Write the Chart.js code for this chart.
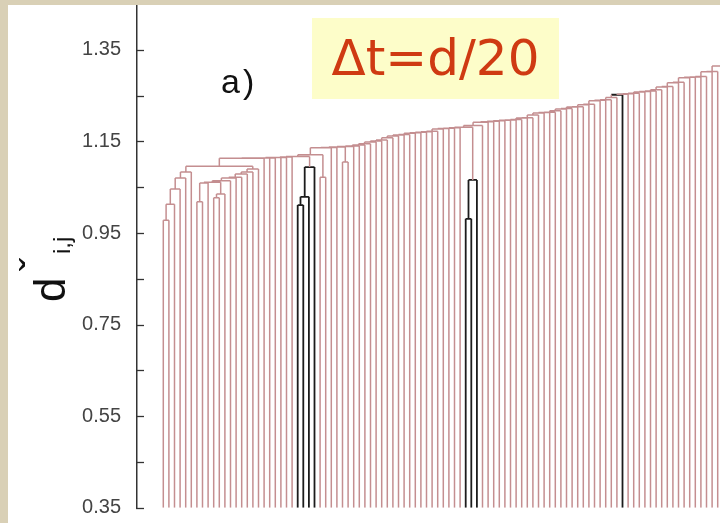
<!DOCTYPE html>
<html><head><meta charset="utf-8">
<script src="https://cdn.jsdelivr.net/npm/chart.js@4.4.1/dist/chart.umd.min.js"></script>
<style>
html,body{margin:0;padding:0;width:720px;height:523px;overflow:hidden;background:#d9d0b6;}
#panel{position:absolute;left:8px;top:5px;width:712px;height:518px;background:#ffffff;overflow:hidden;}
#wrap{position:absolute;left:0;top:0;width:712px;height:518px;}
#tag{position:absolute;left:304px;top:13px;width:247px;height:81px;background:#fdfdc9;color:#cf3a12;
 font-family:'DejaVu Sans',sans-serif;font-size:50px;line-height:81px;text-align:center;white-space:nowrap;}
#panelLabel{position:absolute;left:213px;top:59px;font-family:'Liberation Sans',Arial,sans-serif;font-size:34px;color:#111;line-height:34px;white-space:nowrap;letter-spacing:3px;}
#ytitle{position:absolute;left:20px;top:297px;width:0;height:0;transform-origin:0 0;transform:rotate(-90deg);
 font-family:'Liberation Sans',Arial,sans-serif;color:#111;}
#ytitle span{position:absolute;white-space:nowrap;}
#ytitle .d{left:0;top:0;font-size:44px;line-height:44px;}
#ytitle .caron{left:31px;top:-13px;font-size:40px;line-height:40px;}
#ytitle .sub{left:48px;top:22px;font-size:24px;line-height:24px;}
</style></head>
<body>
<div id="panel">
 <div id="wrap"><canvas id="c"></canvas></div>
 <div id="tag">Δt=d/20</div>
 <div id="panelLabel">a)</div>
 <div id="ytitle"><span class="d">d</span><span class="caron">ˇ</span><span class="sub">i,j</span></div>
</div>
<script>
// ---------------- data ----------------
const yTickValues = [0.35,0.45,0.55,0.65,0.75,0.85,0.95,1.05,1.15,1.25,1.35];
const yTickLabels = ['0.35','','0.55','','0.75','','0.95','','1.15','','1.35'];
const leafBase = 0.35;

// cluster A: ladder over leaves 0-5
const clusterALeaves = [0,1,2,3,4,5];
const clusterAHeights = [0.978,1.013,1.046,1.070,1.083];
// cluster B: leaves 6-17
const clusterBInnerHeights = [1.018,1.059,1.027,1.035,1.061]; // (6,7) ; +8 ; (9,10) ; +11 ; join
const clusterBLadderLeaves = [12,13,14,15,16,17];
const clusterBLadderHeights = [1.064,1.070,1.072,1.079,1.083,1.090];
const clusterABHeight = 1.096;
// black sub-clusters and pairs
const black1Leaves = [24,25,26,27];
const black1Heights = [1.011,1.029,1.094];
const pair1Leaves = [28,29]; const pair1Height = 1.072;
const pair2Leaves = [32,33]; const pair2Height = 1.105;
const black2Leaves = [54,55,56];
const black2Heights = [0.981,1.066];
const blackSingleLeaf = 82;
// main chain: items joined one by one (leaf index or group name) and their join heights
const mainJoinOrder = [18,19,20,21,22,23,'black1','pair1',30,31,'pair2',34,35,36,37,38,39,40,41,42,43,44,45,46,47,48,49,50,51,52,53,'black2',
 57,58,59,60,61,62,63,64,65,66,67,68,69,70,71,72,73,74,75,76,77,78,79,80,81,82,83,84,85,86,87,88,89,90,91,92,93,94,95,96,97,98,99,100];
const mainJoinHeights = [1.113,1.114,1.114,1.115,1.115,1.116,1.117,1.121,1.136,1.137,1.138,1.139,1.140,1.142,1.145,1.149,1.151,1.153,1.158,1.162,1.164,1.165,1.168,1.169,1.170,1.171,1.172,1.177,1.178,1.179,1.180,1.181,
 1.185,1.192,1.193,1.194,1.195,1.196,1.197,1.198,1.201,1.202,1.208,1.212,1.213,1.214,1.217,1.221,1.222,1.225,1.226,1.230,1.231,1.239,1.240,1.241,1.246,1.252,1.253,1.254,1.255,1.258,1.259,1.260,1.263,1.269,1.270,1.278,1.279,1.289,1.290,1.291,1.292,1.302,1.303,1.315];

// ---------------- build dendrogram segments ----------------
const pinkPts = [], blackPts = [];
function seg(arr, pts){ pts.forEach(p=>arr.push({x:p[0],y:p[1]})); arr.push({x:pts[pts.length-1][0],y:null}); }
function leaf(i, black){ return {x:i, h:leafBase, black:!!black}; }
function merge(a, b, h, allBlack, hBlack){
  const la = (allBlack||a.black)?blackPts:pinkPts;
  const rb = (allBlack||b.black)?blackPts:pinkPts;
  const hz = (allBlack||hBlack)?blackPts:pinkPts;
  seg(la, [[a.x,a.h],[a.x,h]]);
  seg(rb, [[b.x,b.h],[b.x,h]]);
  seg(hz, [[a.x,h],[b.x,h]]);
  return {x:(a.x+b.x)/2, h:h, black:false};
}
function ladder(leaves, heights, allBlack){
  let n = leaf(leaves[0]);
  for(let k=1;k<leaves.length;k++) n = merge(n, leaf(leaves[k]), heights[k-1], allBlack);
  return n;
}
const A = ladder(clusterALeaves, clusterAHeights);
let b1 = merge(leaf(6), leaf(7), clusterBInnerHeights[0]);
b1 = merge(b1, leaf(8), clusterBInnerHeights[1]);
let b2 = merge(leaf(9), leaf(10), clusterBInnerHeights[2]);
b2 = merge(b2, leaf(11), clusterBInnerHeights[3]);
let B = merge(b1, b2, clusterBInnerHeights[4]);
clusterBLadderLeaves.forEach((l,k)=>{ B = merge(B, leaf(l), clusterBLadderHeights[k]); });
let main = merge(A, B, clusterABHeight);
const groups = {
  black1: ()=>ladder(black1Leaves, black1Heights, true),
  pair1: ()=>merge(leaf(pair1Leaves[0]), leaf(pair1Leaves[1]), pair1Height),
  pair2: ()=>merge(leaf(pair2Leaves[0]), leaf(pair2Leaves[1]), pair2Height),
  black2: ()=>ladder(black2Leaves, black2Heights, true)
};
mainJoinOrder.forEach((item,k)=>{
  if (typeof item === 'string') main = merge(main, groups[item](), mainJoinHeights[k]);
  else if (item === blackSingleLeaf) main = merge(main, leaf(item, true), mainJoinHeights[k], false, true);
  else main = merge(main, leaf(item), mainJoinHeights[k]);
});

// ---------------- chart ----------------
const tickPlugin = {
  id:'inTicks',
  afterDraw(chart){
    const s = chart.scales.y, ctx = chart.ctx, x0 = chart.chartArea.left;
    ctx.save(); ctx.strokeStyle='#333'; ctx.lineWidth=1.3;
    yTickValues.forEach(v=>{ const y = Math.round(s.getPixelForValue(v))+0.5; ctx.beginPath(); ctx.moveTo(x0-1,y); ctx.lineTo(x0+7,y); ctx.stroke(); });
    ctx.restore();
  }
};
new Chart(document.getElementById('c'), {
  type:'scatter',
  data:{datasets:[
    {data:pinkPts, showLine:true, borderColor:'#c48e90', borderWidth:1.5, pointRadius:0, spanGaps:false, borderJoinStyle:'miter'},
    {data:blackPts, showLine:true, borderColor:'#1c1c1c', borderWidth:1.8, pointRadius:0, spanGaps:false, borderJoinStyle:'miter'}
  ]},
  options:{
    responsive:true, maintainAspectRatio:false, animation:false,
    layout:{autoPadding:false, padding:{left:0,right:0,top:0,bottom:15.3}},
    plugins:{legend:{display:false}, tooltip:{enabled:false}},
    scales:{
      x:{type:'linear', display:false, min:-4.696, max:99.41},
      y:{type:'linear', min:0.35, max:1.448,
        afterFit:(s)=>{ s.width = 129; s.paddingTop = 0; s.paddingBottom = 0; },
        afterBuildTicks:(s)=>{ s.ticks = yTickValues.map(v=>({value:v})); },
        ticks:{ padding:16, color:'#444', font:{family:'Liberation Sans', size:20},
          callback:(v,i)=>yTickLabels[i] },
        grid:{display:true, drawOnChartArea:false, drawTicks:false},
        border:{display:true, color:'#333', width:1.5}
      }
    }
  },
  plugins:[tickPlugin]
});
</script>
</body></html>
